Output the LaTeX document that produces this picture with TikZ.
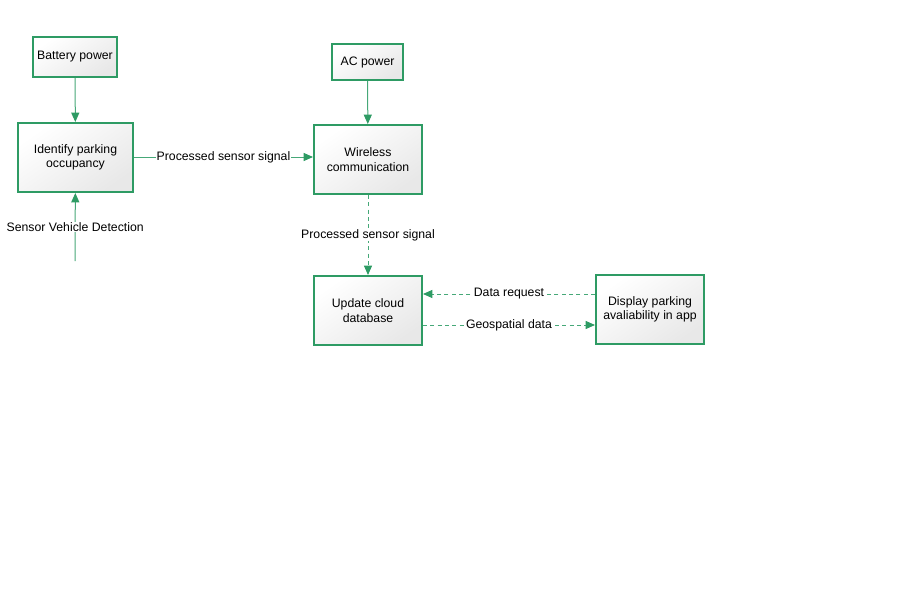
\documentclass[tikz,border=0pt]{standalone}
\usepackage{fontspec}
\setmainfont{Liberation Sans}
\usetikzlibrary{arrows.meta}
\definecolor{gr}{RGB}{46,155,100}
\definecolor{grl}{RGB}{70,168,120}
\tikzset{
  box/.style={draw=gr, line width=1.5pt, top color=white, bottom color=black!9, shading angle=35,
    align=center, font=\fontsize{9.2}{10.7}\selectfont, inner sep=0pt},
  conn/.style={draw=grl, line width=0.75pt, -{Triangle[length=7pt,width=6pt,color=gr,fill=gr]}},
  dconn/.style={conn, dash pattern=on 3pt off 2.5pt},
  lbl/.style={fill=white, inner sep=0.5pt, font=\fontsize{9.2}{10.7}\selectfont}
}
\begin{document}
\begin{tikzpicture}[x=0.75pt,y=-0.75pt]
\useasboundingbox (0,0) rectangle (900,600);
\node[box, minimum width=63pt, minimum height=30pt] (bat) at (75,57) {Battery power};
\node[box, minimum width=86.25pt, minimum height=51.75pt] (idp) at (75.5,157.5) {Identify parking\\occupancy};
\node[box, minimum width=53.25pt, minimum height=27pt] (ac) at (367.5,62) {AC power};
\node[box, minimum width=81pt, minimum height=51.75pt] (wc) at (368,159.5) {Wireless\\communication};
\node[box, minimum width=81pt, minimum height=51.75pt] (ucd) at (368,310.5) {Update cloud\\database};
\node[box, minimum width=81pt, minimum height=51.75pt] (dpa) at (650,309.5) {Display parking\\avaliability in app};
\coordinate (sv) at (75,261);

\draw[conn] (bat) -- (idp);
\draw[conn] (sv) -- node[lbl, pos=0.5] {Sensor Vehicle Detection} (idp);
\draw[conn] (idp.east |- 0,157) -- node[lbl] {Processed sensor signal} (wc.west |- 0,157);
\draw[conn] (ac) -- (wc);
\draw[dconn] (wc) -- node[lbl, pos=0.5] {Processed sensor signal} (ucd);
\draw[dconn] (dpa.west |- 0,294) -- node[lbl] {Data request} (ucd.east |- 0,294);
\draw[dconn] (ucd.east |- 0,325) -- node[lbl] {Geospatial data} (dpa.west |- 0,325);
\end{tikzpicture}
\end{document}
